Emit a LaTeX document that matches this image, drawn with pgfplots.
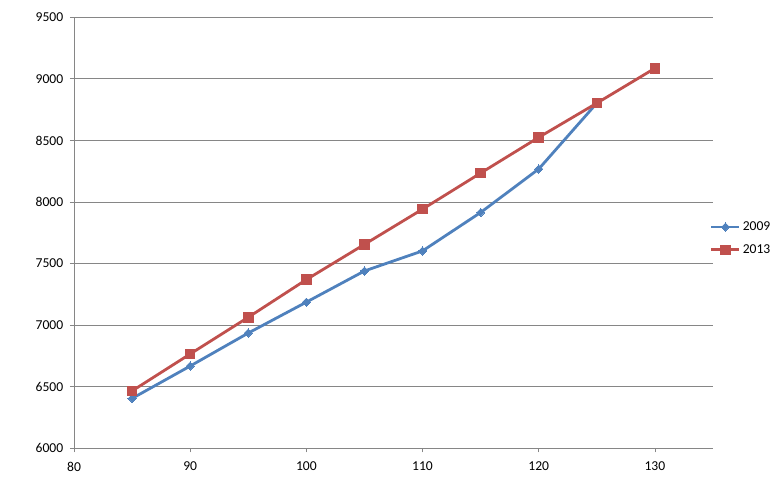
\documentclass[border=0pt]{standalone}
\usepackage{pgfplots}
\pgfplotsset{compat=1.18}
\usepackage{fontspec}
\setmainfont{Carlito}
\definecolor{xlblue}{HTML}{4F81BD}
\definecolor{xlred}{HTML}{C0504D}
\definecolor{xlgrid}{HTML}{868686}
\begin{document}
\fontsize{13.6}{16}\selectfont
\begin{tikzpicture}
\useasboundingbox (-74pt,-30.7pt) rectangle (701pt,448.3pt);
\begin{axis}[
  at={(0,0)}, anchor=south west,
  scale only axis, width=639pt, height=431pt,
  xmin=80, xmax=135, ymin=6000, ymax=9500,
  xtick={80,90,...,130}, ytick={6000,6500,...,9500},
  axis lines*=left,
  axis line style={xlgrid, line width=0.8pt, -},
  ymajorgrids, grid style={xlgrid, line width=0.8pt},
  tick align=outside, major tick length=4pt,
  tick style={xlgrid, line width=0.8pt},
  /pgf/number format/assume math mode=true,
  /pgf/number format/set thousands separator={},
  tick label style={font=\fontsize{13.6}{16}\selectfont, black},
  xticklabel style={yshift=-5pt},
  yticklabel style={xshift=-2pt},
  legend style={draw=none, fill=none, at={(rel axis cs:0.995,0.487)}, anchor=west,
    font=\fontsize{13.6}{16}\selectfont, row sep=8pt, inner sep=0pt,
    /tikz/every even column/.append style={column sep=0pt}},
  legend cell align=left,
  legend image code/.code={
    \draw[#1, mark repeat=2, mark phase=2] plot coordinates {(0pt,0pt) (14pt,0pt) (28pt,0pt)};
  },
]
\addplot[xlblue, line width=2.8pt, mark=square*, mark size=2.9pt, mark options={solid, line width=0pt, rotate=45}] coordinates {
(85,6405) (90,6668) (95,6936) (100,7187) (105,7440) (110,7603) (115,7915) (120,8268) (125,8803)
};
\addlegendentry{2009}
\addplot[xlred, line width=2.8pt, mark=square*, mark size=4.8pt, mark options={solid, line width=0pt}] coordinates {
(85,6466) (90,6766) (95,7064) (100,7370) (105,7656) (110,7942) (115,8235) (120,8525) (125,8803) (130,9086)
};
\addlegendentry{2013}
\end{axis}
\end{tikzpicture}
\end{document}
